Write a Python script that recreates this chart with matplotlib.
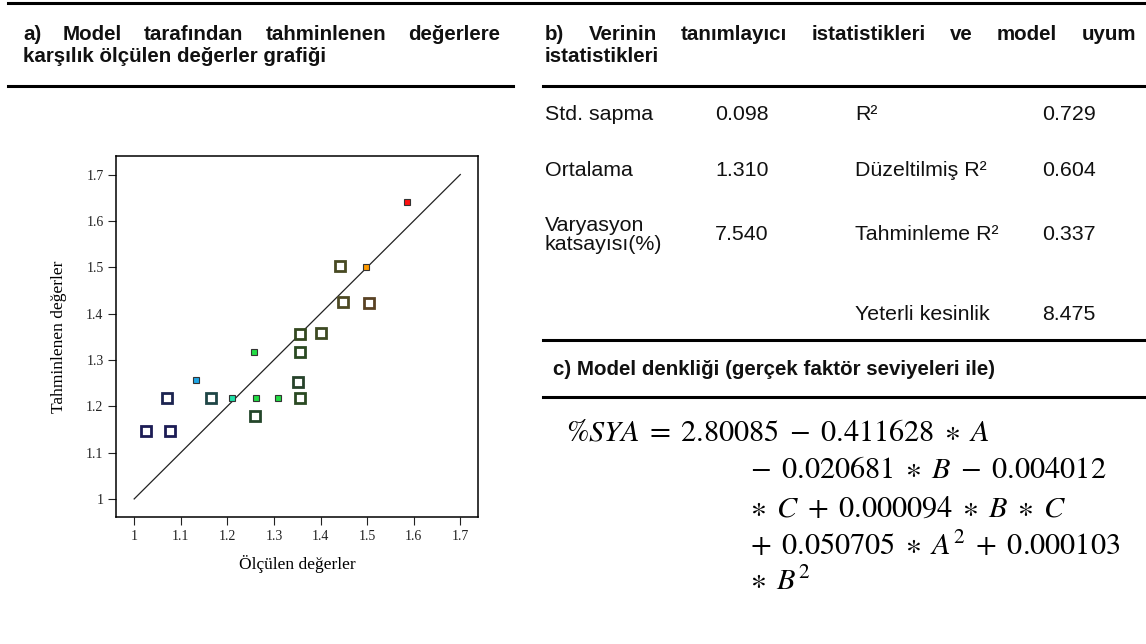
import numpy as np
import matplotlib.pyplot as plt
from matplotlib.lines import Line2D

plt.rcParams['mathtext.fontset'] = 'stix'

# Data
measured = [1.025, 1.076, 1.070, 1.132, 1.164, 1.211, 1.258, 1.261, 1.260, 1.308,
            1.351, 1.355, 1.355, 1.355, 1.402, 1.442, 1.449, 1.498, 1.505, 1.585]
predicted = [1.147, 1.146, 1.218, 1.256, 1.218, 1.218, 1.317, 1.218, 1.180, 1.218,
             1.252, 1.355, 1.318, 1.218, 1.358, 1.503, 1.424, 1.501, 1.422, 1.641]
filled = [False, False, False, True, False, True, True, True, False, True,
          False, False, False, False, False, False, False, True, False, True]
point_colors = ['#1c1c55', '#1c1c55', '#1c2450', '#1ea6e6', '#1f4646', '#1ee0a8',
                '#22dd44', '#22dd44', '#24462a', '#22dd44', '#26422a', '#33481f',
                '#2a4a22', '#2a4a22', '#3d4a22', '#484a22', '#4d4a24', '#ff9a00',
                '#5a4224', '#ff1010']
ticks = [1, 1.1, 1.2, 1.3, 1.4, 1.5, 1.6, 1.7]
tick_labels = ['1', '1.1', '1.2', '1.3', '1.4', '1.5', '1.6', '1.7']

title_a = ['a) Model tarafından tahminlenen değerlere', 'karşılık ölçülen değerler grafiği']
title_b = ['b) Verinin tanımlayıcı istatistikleri ve model uyum', 'istatistikleri']
title_c = 'c) Model denkliği (gerçek faktör seviyeleri ile)'

left_labels = ['Std. sapma', 'Ortalama', 'Varyasyon\nkatsayısı(%)', '']
left_values = ['0.098', '1.310', '7.540', '']
right_labels = ['R²', 'Düzeltilmiş R²', 'Tahminleme R²', 'Yeterli kesinlik']
right_values = ['0.729', '0.604', '0.337', '8.475']

eq_lines = [r'$\%SYA\;=\;2.80085\;-\;0.411628\;\ast\;A$',
            r'${}-\;0.020681\;\ast\;B\;-\;0.004012$',
            r'${}\ast\;C\;+\;0.000094\;\ast\;B\;\ast\;C$',
            r'${}+\;0.050705\;\ast\;A^2\;+\;0.000103$',
            r'${}\ast\;B^2$']

W, H = 1146, 644
fig = plt.figure(figsize=(W / 100, H / 100), dpi=100)


def fx(x):
    return x / W


def fy(y):
    return 1 - y / H


def hline(x0, x1, y, lw=2.2):
    fig.add_artist(Line2D([fx(x0), fx(x1)], [fy(y), fy(y)], color='black', lw=lw,
                          transform=fig.transFigure))


def justified(words, x0, x1, y, **kw):
    r = fig.canvas.get_renderer()
    texts = [fig.text(0, fy(y), w, va='center', ha='left', **kw) for w in words]
    widths = [t.get_window_extent(r).width for t in texts]
    gap = (x1 - x0 - sum(widths)) / (len(words) - 1)
    x = x0
    for t, w in zip(texts, widths):
        t.set_x(fx(x))
        x += w + gap


bold = dict(family='Liberation Sans', fontweight='bold', fontsize=14.8, color='#111111')
norm = dict(family='Liberation Sans', fontsize=15.4, color='#111111')

# header lines
hline(8, W, 3)
hline(8, 513, 86)
hline(543, W, 86)
hline(543, W, 340)
hline(543, W, 397)

# a) title
justified(title_a[0].split(), 23, 500, 35, **bold)
fig.text(fx(23), fy(57), title_a[1], va='center', ha='left', **bold)

# b) title
justified(title_b[0].split(), 545, 1136, 35, **bold)
fig.text(fx(545), fy(57), title_b[1], va='center', ha='left', **bold)

# b) table
row_y = [114, 171, 235, 314]
for y, ll, lv, rl, rv in zip(row_y, left_labels, left_values, right_labels, right_values):
    fig.text(fx(545), fy(y), ll, va='center', ha='left', linespacing=1.05, **norm)
    fig.text(fx(715), fy(y), lv, va='center', ha='left', **norm)
    fig.text(fx(855), fy(y), rl, va='center', ha='left', **norm)
    fig.text(fx(1042), fy(y), rv, va='center', ha='left', **norm)

# c) title and equation
fig.text(fx(553), fy(369), title_c, va='center', ha='left', **bold)
eq_y = [432, 470, 508, 546, 582]
for i, (line, y) in enumerate(zip(eq_lines, eq_y)):
    x = 566 if i == 0 else 746
    fig.text(fx(x), fy(y), line, va='center', ha='left', fontsize=21.8, color='black')

# a) scatter plot
ax = fig.add_axes([116 / W, 1 - 517 / H, (478 - 116) / W, (517 - 156) / H])
ax.plot([1, 1.7], [1, 1.7], color='#222222', lw=0.9, zorder=1)
for x, y, c, f in zip(measured, predicted, point_colors, filled):
    if f:
        ax.plot(x, y, 's', ms=4.4, mfc=c, mec='#333333', mew=0.8, zorder=3)
    else:
        ax.plot(x, y, 's', ms=6.5, mfc='white', mec=c, mew=2.0, zorder=3)

ax.set_xlim(0.961, 1.738)
ax.set_ylim(0.961, 1.740)
ax.set_xticks(ticks)
ax.set_xticklabels(tick_labels)
ax.set_yticks(ticks)
ax.set_yticklabels(tick_labels)
serif = 'Liberation Serif'
for lab in ax.get_xticklabels() + ax.get_yticklabels():
    lab.set_family(serif)
    lab.set_fontsize(10)
ax.tick_params(direction='out', length=6, width=0.8, pad=3, colors='#222222')
for s in ax.spines.values():
    s.set_linewidth(1.1)
ax.set_xlabel('Ölçülen değerler', family=serif, fontsize=12.5, labelpad=9)
ax.set_ylabel('Tahminlenen değerler', family=serif, fontsize=12.5, labelpad=14)

fig.savefig('out.png', dpi=100)
